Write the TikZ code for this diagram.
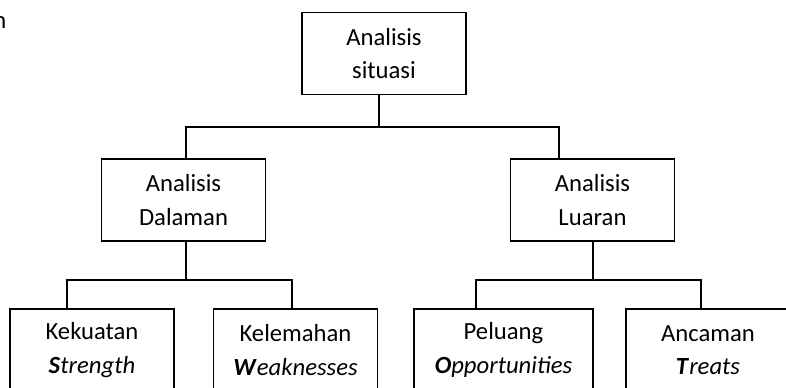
\documentclass[tikz,border=0pt]{standalone}
\usepackage{fontspec}
\setmainfont{Carlito}
\usetikzlibrary{positioning}
\tikzstyle{kotak} = [draw, rectangle, line width=1.2pt, align=center, inner sep=0pt, minimum width=123pt, minimum height=61.5pt, font=\fontsize{18.5}{25}\selectfont]
\tikzstyle{garis} = [line width=1.2pt]
\newcommand{\huruf}[2]{\textbf{\textit{#1}}\textit{#2}}

\begin{document}
\begin{tikzpicture}[x=0.75pt, y=-0.75pt]
\useasboundingbox (0,0) rectangle (786,387);
\clip (0,0) rectangle (786,387);
% sisa teks di kiri atas
\node [anchor=base east, inner sep=0pt, font=\fontsize{18.5}{25}\selectfont] (potong) at (6.5,28) {n};
% kotak
\node [kotak] (situasi) at (384,53.5) {Analisis\\situasi};
\node [kotak] (dalam) at (183.5,200) {Analisis\\Dalaman};
\node [kotak] (luar) at (592.5,200) {Analisis\\Luaran};
\node [kotak] (kuat) at (92,350) {Kekuatan\\\huruf{S}{trength}};
\node [kotak] (lemah) at (295.5,350) {Kelemahan\\\huruf{W}{eaknesses}};
\node [kotak, minimum width=134pt] (peluang) at (503.5,350) {Peluang\\\huruf{O}{pportunities}};
\node [kotak] (ancam) at (708,350) {Ancaman\\\huruf{T}{reats}};
% garis penghubung
\coordinate (s0) at (379,127);
\coordinate (s1) at (186,127);
\coordinate (s2) at (559,127);
\coordinate (d0) at (186,280);
\coordinate (d1) at (67,280);
\coordinate (d2) at (292,280);
\coordinate (l0) at (593,280);
\coordinate (l1) at (476,280);
\coordinate (l2) at (701,280);
\draw [garis] (situasi.south -| s0) -- (s0);
\draw [garis] (dalam.north -| s1) -- (s1) -- (s2) -- (luar.north -| s2);
\draw [garis] (dalam.south -| d0) -- (d0);
\draw [garis] (kuat.north -| d1) -- (d1) -- (d2) -- (lemah.north -| d2);
\draw [garis] (luar.south -| l0) -- (l0);
\draw [garis] (peluang.north -| l1) -- (l1) -- (l2) -- (ancam.north -| l2);
\end{tikzpicture}
\end{document}
